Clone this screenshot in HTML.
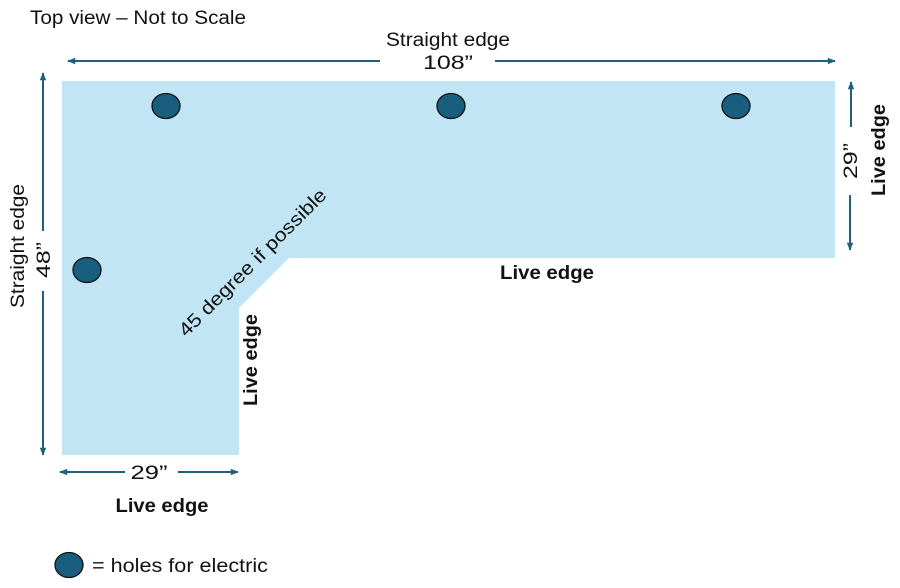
<!DOCTYPE html>
<html><head><meta charset="utf-8"><style>
html,body{margin:0;padding:0;background:#fff;}
svg{display:block;}
text{font-family:"Liberation Sans",sans-serif;fill:#111;}
.b{font-weight:bold;}
</style></head><body>
<svg width="900" height="588" viewBox="0 0 900 588" xmlns="http://www.w3.org/2000/svg">
<defs>
<marker id="a" viewBox="0 0 10 10" refX="9" refY="5" markerWidth="9" markerHeight="8" orient="auto-start-reverse" markerUnits="userSpaceOnUse">
<path d="M0,1 L10,5 L0,9 Z" fill="#1f5f80"/></marker>
</defs>
<polygon points="62,81 835,81 835,258 289,258 239,308 239,455 62,455" fill="#c2e5f5"/>
<g fill="#1a5e7f" stroke="#111" stroke-width="1.3">
<ellipse cx="166" cy="106" rx="14" ry="12.5"/>
<ellipse cx="451" cy="106" rx="14" ry="12.5"/>
<ellipse cx="736" cy="106" rx="14" ry="12.5"/>
<ellipse cx="87" cy="270" rx="14" ry="12.5"/>
<ellipse cx="69" cy="565" rx="14" ry="12.5"/>
</g>
<g stroke="#1f5f80" stroke-width="2" fill="none">
<line x1="380" y1="61" x2="68" y2="61" marker-end="url(#a)"/>
<line x1="495" y1="61" x2="835" y2="61" marker-end="url(#a)"/>
<line x1="43" y1="231" x2="43" y2="73" marker-end="url(#a)"/>
<line x1="43" y1="291" x2="43" y2="455" marker-end="url(#a)"/>
<line x1="851" y1="127" x2="851" y2="82" marker-end="url(#a)"/>
<line x1="850" y1="195" x2="850" y2="250" marker-end="url(#a)"/>
<line x1="125" y1="472" x2="60" y2="472" marker-end="url(#a)"/>
<line x1="178" y1="472" x2="238" y2="472" marker-end="url(#a)"/>
</g>
<text x="30" y="24" font-size="19" textLength="216" lengthAdjust="spacingAndGlyphs">Top view – Not to Scale</text>
<text x="448" y="46" font-size="19" text-anchor="middle" textLength="124" lengthAdjust="spacingAndGlyphs">Straight edge</text>
<text x="448" y="69" font-size="19" text-anchor="middle" textLength="50" lengthAdjust="spacingAndGlyphs">108”</text>
<text transform="translate(24,246) rotate(-90)" font-size="19" text-anchor="middle" textLength="124" lengthAdjust="spacingAndGlyphs">Straight edge</text>
<text transform="translate(50,260) rotate(-90)" font-size="19" text-anchor="middle" textLength="36" lengthAdjust="spacingAndGlyphs">48”</text>
<text transform="translate(857,161) rotate(-90)" font-size="19" text-anchor="middle" textLength="36" lengthAdjust="spacingAndGlyphs">29”</text>
<text class="b" transform="translate(885,150) rotate(-90)" font-size="19" text-anchor="middle" textLength="92" lengthAdjust="spacingAndGlyphs">Live edge</text>
<text class="b" x="547" y="279" font-size="19" text-anchor="middle" textLength="94" lengthAdjust="spacingAndGlyphs">Live edge</text>
<text class="b" transform="translate(257,360) rotate(-90)" font-size="19" text-anchor="middle" textLength="92" lengthAdjust="spacingAndGlyphs">Live edge</text>
<text transform="translate(257,267) rotate(-45)" font-size="19" text-anchor="middle" textLength="200" lengthAdjust="spacingAndGlyphs">45 degree if possible</text>
<text x="149" y="479" font-size="19" text-anchor="middle" textLength="37" lengthAdjust="spacingAndGlyphs">29”</text>
<text class="b" x="162" y="512" font-size="19" text-anchor="middle" textLength="93" lengthAdjust="spacingAndGlyphs">Live edge</text>
<text x="92" y="572" font-size="19" textLength="176" lengthAdjust="spacingAndGlyphs">= holes for electric</text>
</svg>
</body></html>
